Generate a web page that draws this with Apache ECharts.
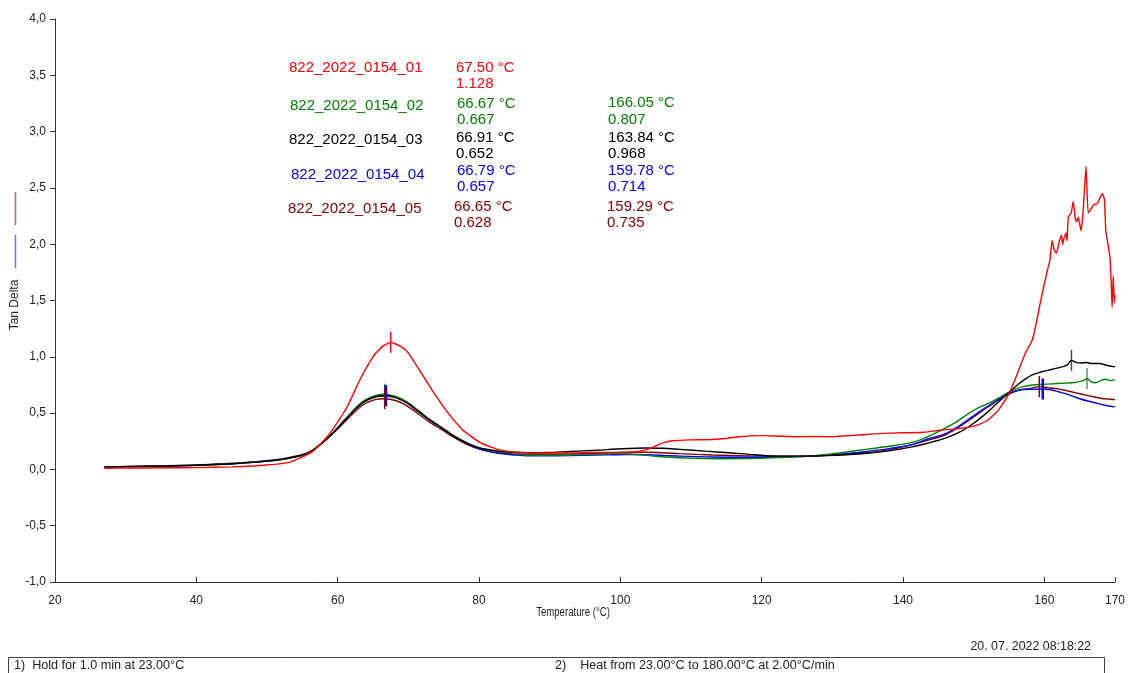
<!DOCTYPE html>
<html>
<head>
<meta charset="utf-8">
<script src="https://cdn.jsdelivr.net/npm/echarts@6/dist/echarts.min.js"></script>
<style>
html,body{margin:0;padding:0;background:#fff;}
#chart{width:1128px;height:673px;}
</style>
</head>
<body>
<div id="chart"></div>
<script>
// ---- data (Temperature °C, Tan Delta) ----
const sampleNames = ['822_2022_0154_01','822_2022_0154_02','822_2022_0154_03','822_2022_0154_04','822_2022_0154_05'];
const sampleColors = ['#ff0000','#008000','#000000','#0000ff','#800000'];

const s01 = [[27,0.01],[30,0.012],[35,0.014],[40,0.016],[45,0.022],[48,0.03],[51,0.045],[53,0.06],[54.6,0.10],[56.5,0.16],[58.9,0.32],[61.3,0.55],[63.1,0.79],[65,1.0],[66.3,1.09],[67.5,1.128],[68.7,1.10],[69.8,1.05],[71.6,0.88],[73.4,0.70],[75.4,0.52],[77.7,0.35],[80.1,0.24],[82.5,0.18],[84.8,0.155],[87,0.148],[89.6,0.145],[93,0.147],[96.6,0.15],[100,0.152],[102.3,0.158],[104,0.18],[105.1,0.21],[106.3,0.24],[107.4,0.255],[110,0.262],[113,0.266],[115,0.275],[116.8,0.29],[118.5,0.298],[120.1,0.30],[122.5,0.295],[124.9,0.29],[127.5,0.292],[130,0.29],[131,0.295],[133.8,0.305],[136.6,0.318],[140,0.325],[143,0.33],[145.5,0.35],[147.5,0.36],[149.4,0.375],[150.8,0.40],[151.8,0.43],[152.6,0.47],[153.4,0.52],[154,0.57],[154.8,0.65],[155.4,0.73],[156,0.82],[156.6,0.92],[157.3,1.03],[158.3,1.15],[158.8,1.28],[159.3,1.44],[159.9,1.62],[160.4,1.76],[160.8,1.86],[161.1,2.03],[161.4,1.95],[161.7,1.92],[162.1,2.02],[162.4,2.08],[162.6,2.0],[162.8,2.06],[163.1,2.1],[163.2,2.03],[163.4,2.24],[163.8,2.28],[164.1,2.38],[164.4,2.22],[164.6,2.2],[164.8,2.24],[165.2,2.12],[165.5,2.3],[165.9,2.69],[166.2,2.28],[166.5,2.3],[167,2.35],[167.5,2.36],[168.2,2.45],[168.5,2.4],[168.7,2.12],[169,2.0],[169.3,1.88],[169.5,1.6],[169.6,1.44],[169.75,1.72],[169.9,1.48],[170,1.55]];

const s02 = [[27,0.022],[35,0.03],[40,0.038],[45,0.05],[48.5,0.065],[51.8,0.085],[53.5,0.105],[56,0.15],[58.9,0.30],[61.3,0.46],[63.5,0.60],[65.3,0.655],[66.67,0.667],[68.3,0.645],[69.8,0.60],[71.5,0.52],[73,0.445],[74.8,0.37],[76.3,0.305],[78.2,0.24],[80.1,0.19],[82.5,0.16],[85,0.14],[87.2,0.128],[89.6,0.128],[93,0.13],[96.6,0.135],[98.9,0.14],[101,0.138],[103.7,0.125],[106,0.112],[108.4,0.104],[112,0.097],[115.4,0.095],[119,0.098],[122.5,0.105],[126,0.115],[129,0.13],[132,0.155],[135,0.18],[138,0.205],[141.3,0.24],[143.5,0.29],[145.5,0.35],[147.5,0.42],[149.4,0.50],[150.8,0.55],[152.2,0.59],[154,0.65],[155.4,0.70],[157,0.735],[158.3,0.75],[159.7,0.755],[161.1,0.76],[162.5,0.765],[163.9,0.77],[165,0.78],[165.6,0.79],[166.05,0.807],[166.6,0.78],[167.3,0.77],[168,0.79],[168.7,0.80],[169.3,0.79],[170,0.795]];

const s03 = [[27,0.022],[35,0.03],[40,0.037],[45,0.05],[48.5,0.067],[51.8,0.087],[53.5,0.105],[56,0.15],[58.9,0.295],[61.3,0.455],[63.5,0.59],[65.3,0.643],[66.91,0.652],[68.3,0.635],[69.8,0.59],[71.5,0.51],[73,0.44],[74.8,0.365],[76.3,0.30],[78.2,0.235],[80.1,0.19],[82.5,0.165],[85,0.152],[87.2,0.148],[89.6,0.15],[93,0.16],[96.6,0.17],[100,0.183],[103.7,0.19],[106,0.188],[108.4,0.178],[112,0.162],[115.4,0.148],[119,0.13],[122.5,0.118],[126,0.118],[129,0.122],[132,0.13],[135,0.143],[138,0.165],[141.3,0.20],[143.3,0.23],[146.1,0.28],[148,0.33],[150,0.41],[151.8,0.50],[153.2,0.58],[154.6,0.66],[156.4,0.76],[157.5,0.81],[158.3,0.84],[159.5,0.865],[160.5,0.88],[161.5,0.895],[162.5,0.91],[163.3,0.93],[163.84,0.968],[164.5,0.95],[165.2,0.945],[165.9,0.95],[166.8,0.94],[167.8,0.94],[168.8,0.925],[170,0.91]];

const s04 = [[27,0.02],[35,0.028],[40,0.036],[45,0.05],[48.5,0.065],[51.8,0.085],[53.5,0.105],[56,0.15],[58.9,0.30],[61.3,0.46],[63.5,0.595],[65.3,0.648],[66.79,0.657],[68.3,0.64],[69.8,0.59],[71.5,0.51],[73,0.44],[74.8,0.365],[76.3,0.30],[78.2,0.235],[80.1,0.18],[82.5,0.145],[85,0.128],[87.2,0.12],[89.6,0.12],[93,0.122],[96.6,0.127],[98.9,0.13],[101,0.132],[103.7,0.13],[106,0.125],[108.4,0.118],[113,0.11],[117,0.108],[122.5,0.11],[127,0.12],[132,0.14],[135,0.16],[138,0.185],[141.3,0.22],[143.5,0.27],[146.1,0.32],[148,0.39],[149.4,0.45],[151,0.52],[152.5,0.58],[154,0.64],[155.4,0.685],[156.5,0.705],[158,0.712],[159.78,0.714],[161,0.705],[162,0.69],[163.1,0.67],[164,0.65],[164.9,0.63],[166,0.61],[167.3,0.59],[168.5,0.57],[170,0.555]];

const s05 = [[27,0.022],[35,0.032],[40,0.04],[45,0.055],[48.5,0.068],[51.8,0.09],[53.5,0.11],[56,0.155],[58.9,0.295],[61.3,0.44],[63.5,0.57],[65.3,0.62],[66.65,0.628],[68.3,0.61],[69.8,0.565],[71.5,0.49],[73,0.42],[74.8,0.35],[76.3,0.29],[78.2,0.225],[80.1,0.18],[82.5,0.15],[85,0.138],[87.2,0.135],[89.6,0.135],[93,0.138],[96.6,0.143],[100,0.15],[103.7,0.152],[106,0.148],[108.4,0.14],[113,0.128],[117.8,0.12],[122.5,0.117],[127.2,0.12],[132,0.135],[136.6,0.16],[140,0.2],[143,0.25],[146.1,0.31],[148,0.38],[149.4,0.44],[151,0.51],[152.5,0.575],[154,0.635],[155.4,0.68],[156.5,0.705],[158,0.72],[159.29,0.735],[160.5,0.725],[162,0.715],[163.1,0.70],[164.5,0.68],[165.9,0.66],[167,0.645],[168.2,0.63],[169,0.625],[170,0.62]];

// peak annotations: [temperature, tan delta]
const peaks01 = [[67.50,1.128]];
const peaks02 = [[66.67,0.667],[166.05,0.807]];
const peaks03 = [[66.91,0.652],[163.84,0.968]];
const peaks04 = [[66.79,0.657],[159.78,0.714]];
const peaks05 = [[66.65,0.628],[159.29,0.735]];

const xTicks = {min:20, max:170, interval:20};
const yTicks = {min:-1, max:4, interval:0.5};

const seriesData = [s01,s02,s03,s04,s05];
const peakData = [peaks01,peaks02,peaks03,peaks04,peaks05];

const chart = echarts.init(document.getElementById('chart'));
const FONT = '"Liberation Sans", Arial, sans-serif';

const series = [];
const drawOrder = [4,3,1,2,0];
drawOrder.forEach(i=>{
  series.push({
    type:'line', name:sampleNames[i], data:seriesData[i], showSymbol:false, symbol:'none',
    smooth: i===0 ? 0.15 : 0.35,
    lineStyle:{color:sampleColors[i], width:1.4},
    z: 2
  });
});
peakData.forEach((p,i)=>{
  series.push({
    type:'scatter', data:p, symbol:'rect', symbolSize:[i===3?2.5:1.5, 21],
    itemStyle:{color:sampleColors[i], opacity: i===1||i===2 ? 0.7 : 1},
    z: 5, silent:true
  });
});

// annotation texts
const graphics = [];
function txt(x,y,text,color,size,opts){
  graphics.push(Object.assign({type:'text', x:x, y:y, silent:true,
    style:{text:text, fill:color, font: (size||15)+'px '+FONT, textAlign:'left', textVerticalAlign:'middle'}}, opts||{}));
}
const annot = [
  {name:[289,68], v1:[456,68], v2:[456,84], t:'67.50 °C', val:'1.128'},
  {name:[290,106], v1:[457,104], v2:[457,120], t:'66.67 °C', val:'0.667', r1:[608,103], r2:[608,120], rt:'166.05 °C', rval:'0.807'},
  {name:[289,140], v1:[456,138], v2:[456,154], t:'66.91 °C', val:'0.652', r1:[608,138], r2:[608,154], rt:'163.84 °C', rval:'0.968'},
  {name:[291,175], v1:[457,171], v2:[457,187], t:'66.79 °C', val:'0.657', r1:[608,171], r2:[608,187], rt:'159.78 °C', rval:'0.714'},
  {name:[288,209], v1:[454,207], v2:[454,223], t:'66.65 °C', val:'0.628', r1:[607,207], r2:[607,223], rt:'159.29 °C', rval:'0.735'}
];
annot.forEach((a,i)=>{
  const c = sampleColors[i];
  txt(a.name[0],a.name[1],sampleNames[i],c,15);
  txt(a.v1[0],a.v1[1],a.t,c,15);
  txt(a.v2[0],a.v2[1],a.val,c,15);
  if(a.rt){
    txt(a.r1[0],a.r1[1],a.rt,c,15);
    txt(a.r2[0],a.r2[1],a.rval,c,15);
  }
});
// y axis title
graphics.push({type:'text', x:15, y:305, rotation:Math.PI/2, silent:true,
  style:{text:'Tan Delta', fill:'#222', font:'12px '+FONT, textAlign:'center', textVerticalAlign:'middle'}});
// x axis title (condensed like the original)
graphics.push({type:'text', x:573, y:613, scaleX:0.8, silent:true,
  style:{text:'Temperature (°C)', fill:'#222', font:'12px '+FONT, textAlign:'center', textVerticalAlign:'middle'}});
// small legend strokes next to y title
graphics.push({type:'line', silent:true, shape:{x1:15.5,y1:192,x2:15.5,y2:225}, style:{stroke:'#b86a6a', lineWidth:1.5}});
graphics.push({type:'line', silent:true, shape:{x1:15.5,y1:235,x2:15.5,y2:268}, style:{stroke:'#6f6ff5', lineWidth:1.5}});
// date
graphics.push({type:'text', x:1091, y:647, silent:true,
  style:{text:'20. 07. 2022 08:18:22', fill:'#222', font:'12.4px '+FONT, textAlign:'right', textVerticalAlign:'middle'}});
// method box
graphics.push({type:'rect', silent:true, shape:{x:8.5,y:657.5,width:1096,height:30}, style:{fill:'none', stroke:'#444', lineWidth:1}});
txt(14,666,'1)  Hold for 1.0 min at 23.00°C','#222',12.6);
txt(555,666,'2)    Heat from 23.00°C to 180.00°C at 2.00°C/min','#222',12.6);

chart.setOption({
  animation:false,
  backgroundColor:'#fff',
  grid:{left:55, right:12, top:19, bottom:91, containLabel:false},
  xAxis:{
    type:'value', min:xTicks.min, max:xTicks.max, interval:xTicks.interval,
    axisLine:{show:true, onZero:false, lineStyle:{color:'#333', width:1}},
    axisTick:{show:true, inside:true, length:5, lineStyle:{color:'#333'}},
    axisLabel:{color:'#222', fontSize:12, fontFamily:FONT, margin:13, showMaxLabel:true},
    splitLine:{show:false}
  },
  yAxis:{
    type:'value', min:yTicks.min, max:yTicks.max, interval:yTicks.interval,
    axisLine:{show:true, onZero:false, lineStyle:{color:'#333', width:1}},
    axisTick:{show:true, inside:false, length:5, lineStyle:{color:'#333'}},
    axisLabel:{color:'#222', fontSize:12, fontFamily:FONT, margin:9,
      formatter:v=>v.toFixed(1).replace('.',',')},
    splitLine:{show:false}
  },
  series:series,
  graphic:graphics
});
</script>
</body>
</html>
